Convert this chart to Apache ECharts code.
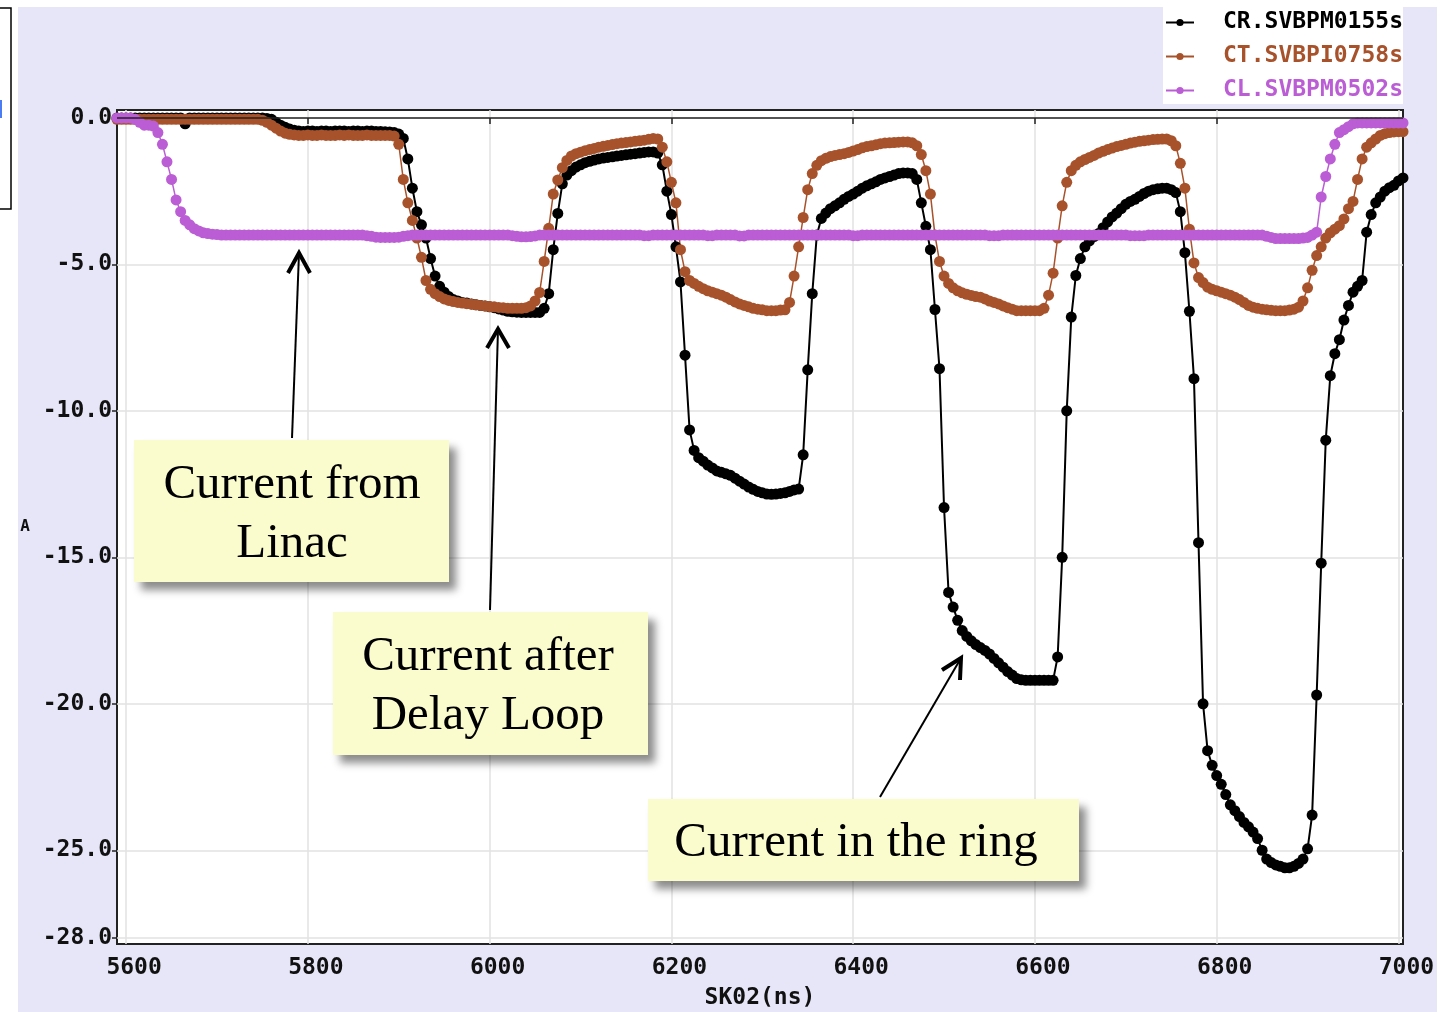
<!DOCTYPE html>
<html>
<head>
<meta charset="utf-8">
<script src="https://cdn.jsdelivr.net/npm/echarts@6/dist/echarts.min.js"></script>
<style>
  html, body { margin: 0; padding: 0; background: #fff; }
  #chart { width: 1447px; height: 1012px; }
</style>
</head>
<body>
<div id="chart"></div>
<script>
// scope record, one sample every 5 ns starting at 5590 ns
const t0 = 5590;
const dt = 5;

const crValues = [
  0, 0, 0, 0, 0, 0, 0, 0, 0, 0,
  0, 0, 0, 0, 0, -0.2, 0, 0, 0, 0,
  0, 0, 0, 0, 0, 0, 0, 0, 0, 0,
  0, 0, 0, -0.02, -0.05, -0.15, -0.25, -0.32, -0.38, -0.42,
  -0.45, -0.46, -0.45, -0.45, -0.46, -0.45, -0.45, -0.46, -0.45, -0.45,
  -0.45, -0.46, -0.45, -0.45, -0.46, -0.45, -0.45, -0.46, -0.46, -0.47,
  -0.48, -0.5, -0.55, -0.7, -1.4, -2.4, -3.2, -3.65, -4.1, -4.8,
  -5.4, -5.75, -5.95, -6.1, -6.2, -6.25, -6.3, -6.32, -6.35, -6.38,
  -6.4, -6.42, -6.45, -6.48, -6.52, -6.56, -6.6, -6.62, -6.63, -6.64,
  -6.64, -6.64, -6.64, -6.64, -6.5, -6.0, -4.5, -3.26, -2.25, -1.95,
  -1.8, -1.68, -1.6, -1.53, -1.48, -1.44, -1.4, -1.37, -1.35, -1.33,
  -1.3, -1.28, -1.26, -1.24, -1.22, -1.2, -1.18, -1.16, -1.16, -1.2,
  -1.6, -2.5, -3.3, -4.4, -5.6, -8.1, -10.65, -11.35, -11.6, -11.72,
  -11.85, -11.95, -12.05, -12.1, -12.15, -12.2, -12.3, -12.4, -12.5, -12.6,
  -12.68, -12.75, -12.8, -12.84, -12.85, -12.84, -12.82, -12.8, -12.75, -12.7,
  -12.67, -11.5, -8.6, -6.0, -4.0, -3.43, -3.25, -3.1, -3.0, -2.9,
  -2.78, -2.68, -2.6, -2.5, -2.4, -2.32, -2.25, -2.18, -2.1, -2.05,
  -2.0, -1.95, -1.9, -1.88, -1.88, -1.9, -2.1, -2.9, -3.7, -4.5,
  -6.54, -8.56, -13.3, -16.2, -16.7, -17.15, -17.5, -17.7, -17.85, -17.98,
  -18.08, -18.18, -18.3, -18.45, -18.6, -18.75, -18.9, -19.02, -19.14, -19.18,
  -19.2, -19.2, -19.2, -19.2, -19.2, -19.2, -19.2, -18.4, -15.0, -10.0,
  -6.8, -5.38, -4.8, -4.4, -4.2, -4.05, -3.95, -3.75, -3.55, -3.38,
  -3.25, -3.1, -2.95, -2.85, -2.78, -2.68, -2.58, -2.5, -2.45, -2.42,
  -2.4, -2.4, -2.45, -2.55, -3.2, -4.6, -6.6, -8.9, -14.5, -20.0,
  -21.6, -22.1, -22.45, -22.75, -23.1, -23.45, -23.65, -23.85, -24.05, -24.2,
  -24.38, -24.6, -25.0, -25.3, -25.42, -25.5, -25.55, -25.6, -25.6, -25.55,
  -25.45, -25.3, -24.95, -23.8, -19.7, -15.2, -11.0, -8.8, -8.05, -7.57,
  -6.9, -6.4, -5.95, -5.75, -5.55, -3.9, -3.3, -2.9, -2.7, -2.5,
  -2.38, -2.3, -2.15, -2.05
];

const ctValues = [
  -0.05, -0.05, -0.05, -0.05, -0.05, -0.05, -0.05, -0.05, -0.05, -0.05,
  -0.05, -0.05, -0.05, -0.05, -0.05, -0.05, -0.05, -0.05, -0.05, -0.05,
  -0.05, -0.05, -0.05, -0.05, -0.05, -0.05, -0.05, -0.05, -0.05, -0.05,
  -0.05, -0.05, -0.08, -0.15, -0.25, -0.35, -0.45, -0.52, -0.56, -0.58,
  -0.6, -0.6, -0.58, -0.6, -0.6, -0.58, -0.6, -0.6, -0.6, -0.58,
  -0.6, -0.58, -0.6, -0.6, -0.6, -0.58, -0.6, -0.6, -0.6, -0.6,
  -0.6, -0.62, -0.9, -2.1, -2.9, -3.5, -4.1, -4.76, -5.55, -5.85,
  -6.0, -6.1, -6.18, -6.23, -6.27, -6.3, -6.32, -6.34, -6.36, -6.38,
  -6.4, -6.42, -6.44, -6.45, -6.47, -6.48, -6.5, -6.5, -6.5, -6.5,
  -6.48, -6.42, -6.25, -5.96, -4.9, -3.77, -2.6, -2.12, -1.7, -1.45,
  -1.3, -1.22, -1.17, -1.12, -1.08, -1.04, -1.0, -0.97, -0.94, -0.91,
  -0.88, -0.86, -0.84, -0.82, -0.8, -0.78, -0.76, -0.73, -0.7, -0.72,
  -1.0, -1.5, -2.2, -2.9, -4.5, -5.25, -5.55, -5.65, -5.75, -5.83,
  -5.9, -5.95, -6.0, -6.05, -6.12, -6.2, -6.28, -6.35, -6.4, -6.45,
  -6.5, -6.53, -6.55, -6.58, -6.58, -6.58, -6.56, -6.55, -6.3, -5.4,
  -4.4, -3.4, -2.45, -1.9, -1.62, -1.46, -1.38, -1.32, -1.28, -1.25,
  -1.22, -1.18, -1.13, -1.08, -1.02, -0.98, -0.95, -0.92, -0.88, -0.86,
  -0.85, -0.84, -0.83, -0.82, -0.82, -0.85, -0.95, -1.25, -1.8, -2.6,
  -4.0, -4.9, -5.4, -5.65, -5.8, -5.9, -5.97, -6.02, -6.06, -6.1,
  -6.12, -6.18, -6.25, -6.3, -6.35, -6.42, -6.48, -6.53, -6.58, -6.58,
  -6.58, -6.58, -6.58, -6.58, -6.5, -6.05, -5.3, -4.1, -3.0, -2.2,
  -1.8, -1.62, -1.5, -1.42, -1.35, -1.28, -1.2, -1.14, -1.08, -1.03,
  -0.98, -0.94, -0.9, -0.86, -0.83, -0.8, -0.78, -0.76, -0.74, -0.73,
  -0.72, -0.72, -0.78, -0.95, -1.55, -2.4, -3.8, -4.95, -5.45, -5.62,
  -5.78, -5.85, -5.9, -5.95, -6.0, -6.05, -6.12, -6.2, -6.3, -6.4,
  -6.46, -6.5, -6.53, -6.55, -6.57, -6.58, -6.58, -6.58, -6.56, -6.53,
  -6.46, -6.25, -5.8, -5.2, -4.7, -4.4, -4.1, -3.92, -3.8, -3.68,
  -3.45, -3.1, -2.85, -2.1, -1.4, -1.0, -0.85, -0.72, -0.6, -0.54,
  -0.5, -0.48, -0.47, -0.47
];

const clValues = [
  0, 0, 0, 0, -0.05, -0.15, -0.25, -0.25, -0.28, -0.5,
  -0.9, -1.5, -2.1, -2.8, -3.2, -3.5, -3.65, -3.78, -3.86, -3.92,
  -3.95, -3.97, -3.98, -4.0, -4.0, -4.0, -4.0, -4.0, -4.0, -4.0,
  -4.0, -4.0, -4.0, -4.0, -4.0, -4.0, -4.0, -4.0, -4.0, -4.0,
  -4.0, -4.0, -4.0, -4.0, -4.0, -4.0, -4.0, -4.0, -4.0, -4.0,
  -4.0, -4.0, -4.0, -4.0, -4.0, -4.02, -4.04, -4.07, -4.08, -4.08,
  -4.08, -4.08, -4.07, -4.04, -4.02, -4.0, -4.0, -4.0, -4.0, -4.0,
  -4.0, -4.0, -4.0, -4.0, -4.0, -4.0, -4.0, -4.0, -4.0, -4.0,
  -4.0, -4.0, -4.0, -4.0, -4.0, -4.0, -4.0, -4.02, -4.04, -4.06,
  -4.06, -4.05, -4.03, -4.0, -4.0, -4.0, -4.0, -4.0, -4.0, -4.0,
  -4.0, -4.0, -4.0, -4.0, -4.0, -4.0, -4.0, -4.0, -4.0, -4.0,
  -4.0, -4.0, -4.0, -4.0, -4.0, -4.0, -4.02, -4.02, -4.0, -4.0,
  -4.0, -4.0, -4.0, -4.0, -4.0, -4.0, -4.0, -4.0, -4.0, -4.0,
  -4.02, -4.02, -4.0, -4.0, -4.0, -4.0, -4.0, -4.03, -4.03, -4.0,
  -4.0, -4.0, -4.0, -4.0, -4.0, -4.0, -4.0, -4.0, -4.0, -4.0,
  -4.0, -4.0, -4.0, -4.0, -4.0, -4.0, -4.0, -4.0, -4.0, -4.0,
  -4.0, -4.0, -4.02, -4.02, -4.0, -4.0, -4.0, -4.0, -4.0, -4.0,
  -4.0, -4.0, -4.0, -4.0, -4.0, -4.0, -4.0, -4.0, -4.0, -4.0,
  -4.0, -4.0, -4.0, -4.0, -4.0, -4.0, -4.0, -4.0, -4.0, -4.0,
  -4.0, -4.0, -4.02, -4.02, -4.02, -4.0, -4.0, -4.0, -4.0, -4.0,
  -4.0, -4.0, -4.0, -4.0, -4.0, -4.0, -4.0, -4.0, -4.0, -4.0,
  -4.0, -4.0, -4.0, -4.0, -4.0, -4.0, -4.0, -4.0, -4.0, -4.0,
  -4.0, -4.0, -4.0, -4.02, -4.02, -4.02, -4.02, -4.0, -4.0, -4.0,
  -4.0, -4.0, -4.0, -4.0, -4.0, -4.0, -4.0, -4.0, -4.0, -4.0,
  -4.0, -4.0, -4.0, -4.0, -4.0, -4.0, -4.0, -4.0, -4.0, -4.0,
  -4.0, -4.0, -4.0, -4.04, -4.08, -4.12, -4.12, -4.12, -4.12, -4.12,
  -4.12, -4.1, -4.08, -4.0, -3.9, -2.7, -2.0, -1.4, -0.9, -0.5,
  -0.4, -0.3, -0.2, -0.17, -0.17, -0.17, -0.17, -0.17, -0.17, -0.17,
  -0.17, -0.17, -0.17, -0.17
];

const seriesNames = ['CR.SVBPM0155s', 'CT.SVBPI0758s', 'CL.SVBPM0502s'];
const seriesColors = ['#000000', '#a8522b', '#bb5dd4'];
const xTicks = [5600, 5800, 6000, 6200, 6400, 6600, 6800, 7000];
const yTicks = [0, -5, -10, -15, -20, -25, -28];

const toPairs = (vals) => vals.map((v, i) => [t0 + i * dt, v]);

const monoFont = '"DejaVu Sans Mono", "Liberation Mono", monospace';
const TOP = 100;

const makeSeries = (name, color, vals, width) => ({
  name: name,
  type: 'line',
  data: toPairs(vals),
  symbol: 'circle',
  symbolSize: 11,
  showSymbol: true,
  showAllSymbol: true,
  lineStyle: { color: color, width: width },
  itemStyle: { color: color },
  emphasis: { disabled: true },
  animation: false
});

// yellow note boxes with a drop shadow
const noteBox = (x, y, w, h, text, cx, cy) => ({
  type: 'group',
  z: TOP,
  children: [
    {
      type: 'rect',
      z: TOP,
      shape: { x: x, y: y, width: w, height: h },
      style: {
        fill: '#fbfccd',
        shadowBlur: 8,
        shadowOffsetX: 7,
        shadowOffsetY: 8,
        shadowColor: 'rgba(0,0,0,0.45)'
      }
    },
    {
      type: 'text',
      z: TOP + 1,
      x: cx,
      y: cy,
      style: {
        text: text,
        fill: '#000',
        fontFamily: '"Liberation Serif", "Times New Roman", serif',
        fontSize: 49,
        lineHeight: 59,
        align: 'center',
        verticalAlign: 'middle'
      }
    }
  ]
});

const arrow = (from, tip, armA, armB) => ({
  type: 'group',
  z: TOP,
  children: [
    {
      type: 'polyline',
      z: TOP,
      shape: { points: [from, tip] },
      style: { stroke: '#000', lineWidth: 2 }
    },
    {
      type: 'polyline',
      z: TOP,
      shape: { points: [armA, tip, armB] },
      style: { stroke: '#000', lineWidth: 4, lineJoin: 'miter' }
    }
  ]
});

const chart = echarts.init(document.getElementById('chart'), null, { renderer: 'canvas' });

const option = {
  backgroundColor: '#e6e6f8',
  animation: false,
  grid: {
    left: 117,
    right: 44,
    top: 110,
    bottom: 68,
    outerBoundsMode: 'none',
    containLabel: false,
    show: true,
    backgroundColor: '#ffffff',
    borderColor: '#222',
    borderWidth: 2
  },
  legend: {
    orient: 'vertical',
    right: 44,
    top: 7,
    backgroundColor: '#ffffff',
    padding: [4, 0, 2, 2],
    itemGap: 11,
    itemWidth: 28,
    itemHeight: 9,
    textStyle: {
      fontFamily: monoFont,
      fontWeight: 'bold',
      fontSize: 23,
      padding: [0, 0, 0, 24]
    },
    data: seriesNames.map((n, i) => ({ name: n, textStyle: { color: seriesColors[i] } }))
  },
  xAxis: {
    type: 'value',
    min: 5590,
    max: 7005,
    splitNumber: 7,
    name: 'SK02(ns)',
    nameLocation: 'middle',
    nameGap: 43,
    nameTextStyle: { fontFamily: monoFont, fontWeight: 'bold', fontSize: 23, color: '#111' },
    axisLine: { show: false },
    axisTick: { show: true, length: 6, customValues: xTicks, lineStyle: { color: '#222', width: 1.5 } },
    axisLabel: {
      customValues: xTicks,
      margin: 13,
      padding: [0, 0, 0, 16],
      fontFamily: monoFont,
      fontWeight: 'bold',
      fontSize: 23,
      color: '#111',
      formatter: (v) => String(v)
    },
    splitLine: { show: true, lineStyle: { color: '#e2e2e2', width: 1.5 } }
  },
  yAxis: {
    type: 'value',
    min: -28.2,
    max: 0.27,
    splitNumber: 6,
    axisLine: { show: false },
    axisTick: { show: true, length: 5, customValues: yTicks, lineStyle: { color: '#222', width: 1.5 } },
    axisLabel: {
      customValues: yTicks,
      margin: 5,
      fontFamily: monoFont,
      fontWeight: 'bold',
      fontSize: 23,
      color: '#111',
      formatter: (v) => v.toFixed(1)
    },
    splitLine: { show: true, lineStyle: { color: '#e2e2e2', width: 1.5 } }
  },
  series: [
    Object.assign(makeSeries(seriesNames[0], seriesColors[0], crValues, 2), {
      markLine: {
        silent: true,
        symbol: 'none',
        animation: false,
        label: { show: false },
        lineStyle: { color: '#222', width: 1.5, type: 'solid' },
        data: [{ yAxis: 0 }]
      }
    }),
    makeSeries(seriesNames[1], seriesColors[1], ctValues, 1.5),
    makeSeries(seriesNames[2], seriesColors[2], clValues, 1.5)
  ],
  graphic: [
    // white margins around the lavender panel
    { type: 'rect', shape: { x: 0, y: 0, width: 18, height: 1012 }, style: { fill: '#fff' }, silent: true },
    { type: 'rect', shape: { x: 0, y: 0, width: 1447, height: 7 }, style: { fill: '#fff' }, silent: true },
    { type: 'rect', shape: { x: 1437, y: 0, width: 10, height: 1012 }, style: { fill: '#fff' }, silent: true },
    { type: 'rect', shape: { x: -3, y: 8, width: 14, height: 201 }, style: { fill: '#fff', stroke: '#000', lineWidth: 1.5 }, silent: true },
    { type: 'rect', shape: { x: 0, y: 100, width: 2, height: 18 }, style: { fill: '#4b7cf2' }, silent: true },
    {
      type: 'text', x: 25, y: 527,
      style: { text: 'A', fill: '#111', fontFamily: monoFont, fontWeight: 'bold', fontSize: 16, align: 'center', verticalAlign: 'middle' }
    },
    arrow([292, 438], [299, 253], [288, 273], [310, 273]),
    arrow([490, 610], [498, 329], [487, 348], [509, 348]),
    arrow([880, 797], [961, 658], [942, 670], [960, 680]),
    noteBox(134, 440, 315, 142, 'Current from\nLinac', 292, 515),
    noteBox(333, 612, 315, 143, 'Current after\nDelay Loop', 488, 687),
    noteBox(648, 799, 431, 82, 'Current in the ring', 856, 843)
  ]
};

chart.setOption(option);
</script>
</body>
</html>
